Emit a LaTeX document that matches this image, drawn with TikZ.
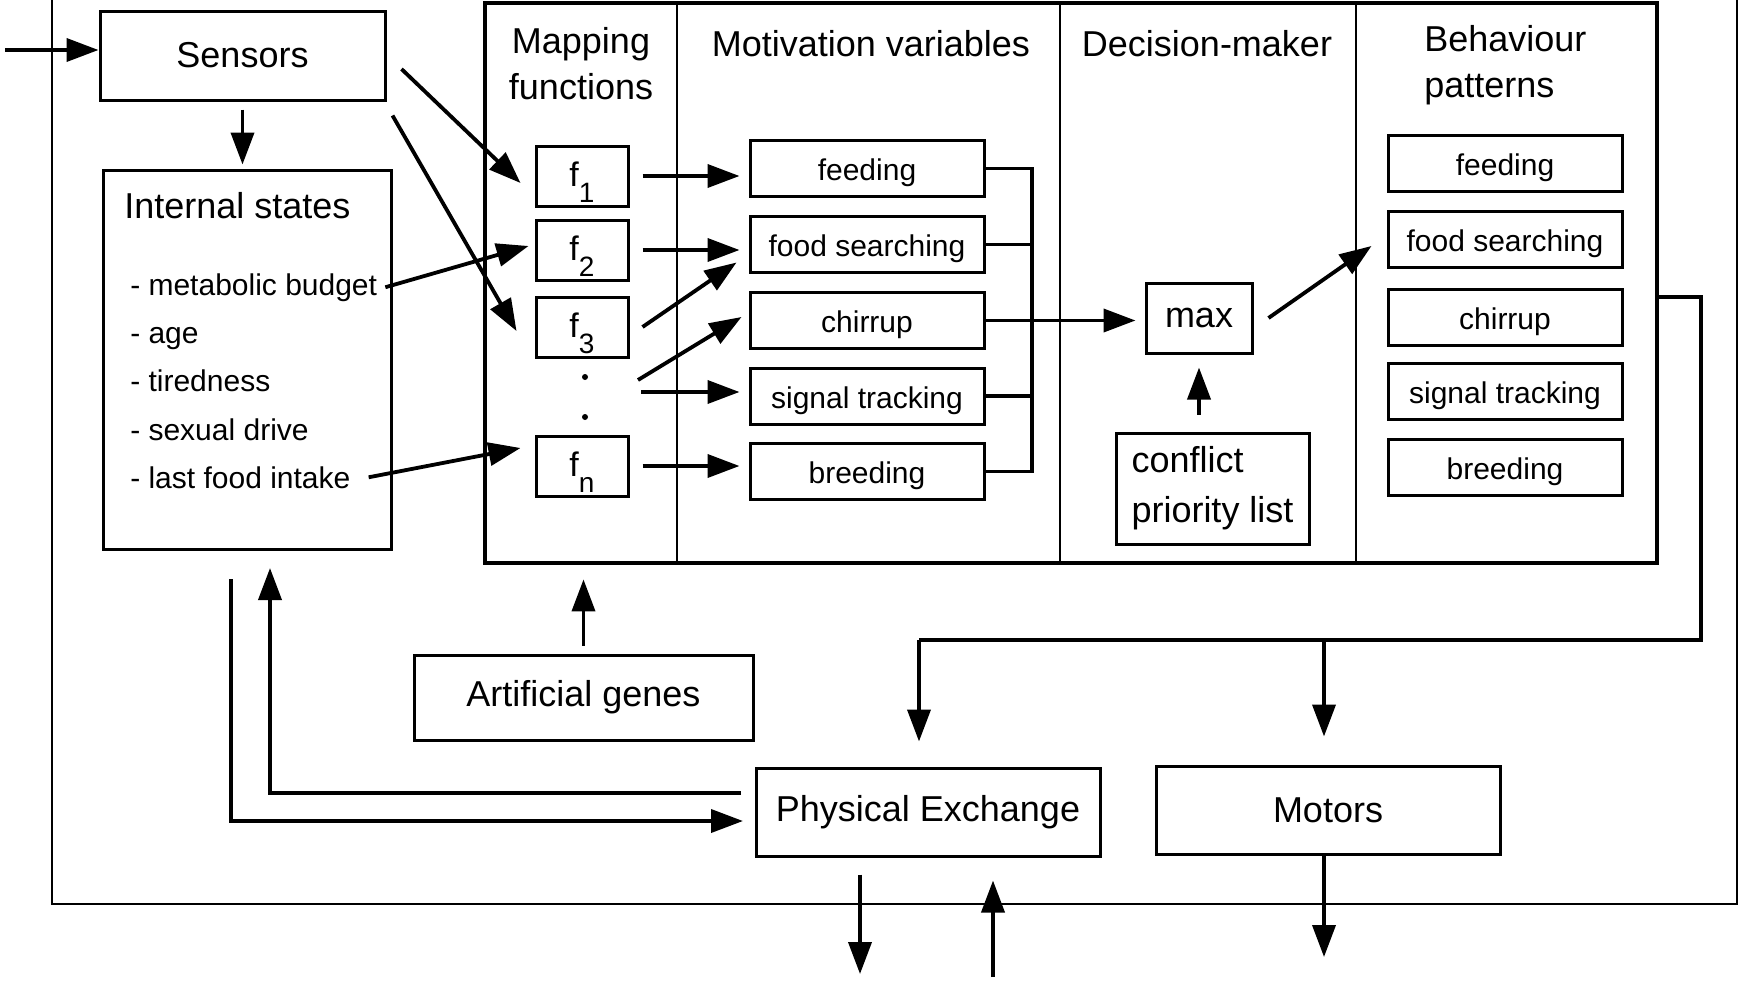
\documentclass[tikz,border=0pt]{standalone}
\usepackage{fontspec}
\setmainfont{Liberation Sans}
\usetikzlibrary{arrows.meta}
\newcommand{\fsub}[1]{f\raisebox{-8pt}{\fontsize{14}{14}\selectfont #1}}
\begin{document}
\begin{tikzpicture}[x=0.5pt,y=-0.5pt,
  line width=1.6pt,
  big/.style={font=\fontsize{18}{23}\selectfont},
  small/.style={font=\fontsize{15}{18}\selectfont},
  box/.style={draw, line width=1.5pt, inner sep=0pt},
  fbox/.style={box, font=\fontsize{17}{20}\selectfont, text height=15pt, text depth=5pt, minimum width=46pt, minimum height=30pt},
  mbox/.style={box, small, text height=12pt, text depth=0pt, minimum width=117pt, minimum height=28pt},
  wide/.style={box, big, minimum width=172pt, minimum height=44pt},
  arr/.style={-{Triangle[length=16pt,width=11.5pt]}, line width=1.9pt},
]
\useasboundingbox (0,0) rectangle (1740,980);

% outer frame of the agent
\draw[line width=1.3pt] (52,0) -- (52,904) -- (1737,904) -- (1737,0);

% sensors and internal states
\node[box, big, minimum width=142.5pt, minimum height=44.5pt] (sen) at (242.5,55.5) {Sensors};
\node[box, minimum width=144pt, minimum height=189.5pt] (ist) at (247,359.5) {};
\node[big, anchor=west] (istT) at (116,206) {Internal states};
\node[small, anchor=base west] (b1) at (122,295) {- metabolic budget};
\node[small, anchor=base west] (b2) at (122,343) {- age};
\node[small, anchor=base west] (b3) at (122,391) {- tiredness};
\node[small, anchor=base west] (b4) at (122,440) {- sexual drive};
\node[small, anchor=base west] (b5) at (122,488) {- last food intake};

% control module with its four columns
\node[draw, line width=2.4pt, minimum width=586pt, minimum height=280pt, inner sep=0pt] (core) at (1071,283) {};
\draw[line width=1.2pt] (677,3) -- (677,563);
\draw[line width=1.2pt] (1060,3) -- (1060,563);
\draw[line width=1.2pt] (1356,3) -- (1356,563);
\node[big, align=center] (hmap) at (581,64) {Mapping\\functions};
\node[big] (hmot) at (871,44) {Motivation variables};
\node[big] (hdec) at (1207,44) {Decision-maker};
\node[big, align=left, anchor=west] (hbeh) at (1416,65) {Behaviour\\patterns};

% mapping functions, with a vertical ellipsis before the last one
\node[fbox] (f1) at (582,176) {\fsub{1}};
\node[fbox] (f2) at (582,250) {\fsub{2}};
\node[fbox] (f3) at (582,327) {\fsub{3}};
\node[fbox] (fn) at (582,466) {\fsub{n}};
\fill (585,377) circle (1.5pt);
\fill (585,417) circle (1.5pt);

% motivation variables
\node[mbox] (mfeed) at (867,168.5) {feeding};
\node[mbox] (msearch) at (867,244.5) {food searching};
\node[mbox] (mchirp) at (867,320.5) {chirrup};
\node[mbox] (msignal) at (867,396) {signal tracking};
\node[mbox] (mbreed) at (867,471.5) {breeding};

% decision-maker
\node[box, big, minimum width=53pt, minimum height=35pt] (max) at (1199,318) {max};
\node[box, big, align=left, minimum width=96.5pt, minimum height=55.5pt, font=\fontsize{18}{25}\selectfont] (conf) at (1212.5,488.5) {conflict\\priority list};

% behaviour patterns
\node[mbox] (bfeed) at (1505,163) {feeding};
\node[mbox] (bsearch) at (1505,239.5) {food searching};
\node[mbox] (bchirp) at (1505,317) {chirrup};
\node[mbox] (bsignal) at (1505,391.5) {signal tracking};
\node[mbox] (bbreed) at (1505,467) {breeding};

% lower blocks
\node[box, big, minimum width=169.5pt, minimum height=42.5pt] (gen) at (583.5,697.5) {Artificial genes};
\node[wide] (pe) at (928,812) {Physical Exchange};
\node[wide] (mot) at (1328,810) {Motors};

% free ends of connectors
\coordinate (in) at (5,50);
\coordinate (m4a) at (638,380);
\coordinate (m4b) at (641,392);
\coordinate (bus) at (1032,320.5);
\coordinate (tap) at (1657,297);
\coordinate (corner) at (1701,640);
\coordinate (j1) at (919,640);
\coordinate (j2) at (1324,640);
\coordinate (pa) at (741,793);
\coordinate (ia) at (270,568);
\coordinate (ib) at (231,579);
\coordinate (pb) at (743,821);
\coordinate (o1) at (860,974);
\coordinate (i1) at (993,977);
\coordinate (o2) at (1324,957);

% inputs
\draw[arr] (in) -- (in -| sen.west);
\draw[arr, shorten <=4pt, shorten >=2pt] (sen.south) -- (sen.south |- ist.north);
\draw[arr] ([shift={(7.5pt,-6.75pt)}]sen.east) -- ([shift={(-7pt,-3.5pt)}]f1.west);
\draw[arr] ([shift={(3pt,-7pt)}]sen.south east) -- ([shift={(-9pt,-2pt)}]f3.west);
\draw[arr] (b1.east) -- ([shift={(-3pt,2pt)}]f2.west);
\draw[arr] ([xshift=5pt]b5.east) -- ([shift={(-7pt,9pt)}]fn.west);

% mapping functions to motivation variables
\draw[arr, shorten <=6.5pt, shorten >=4.5pt] (f1) -- (f1 -| mfeed.west);
\draw[arr, shorten <=6.5pt, shorten >=4.5pt] (f2) -- (f2 -| msearch.west);
\draw[arr] ([xshift=6.5pt]f3.east) -- ([shift={(-6pt,-9pt)}]msearch.west);
\draw[arr] (m4a) -- ([shift={(-3.5pt,1.75pt)}]mchirp.west);
\draw[arr, shorten >=4.5pt] (m4b) -- (m4b -| msignal.west);
\draw[arr, shorten <=6.5pt, shorten >=4.5pt] (fn) -- (fn -| mbreed.west);

% motivation bus into the decision-maker
\draw[line width=1.8pt] (mfeed.east) -| (bus);
\draw[line width=1.8pt] (mbreed.east) -| (bus);
\draw[line width=1.8pt] (msearch.east) -- (msearch.east -| bus);
\draw[line width=1.8pt] (msignal.east) -- (msignal.east -| bus);
\draw[arr, shorten >=4.5pt] (mchirp.east) -- (mchirp.east -| max.west);
\draw[arr, shorten <=8.5pt, shorten >=6.5pt] (conf.north -| max.south) -- (max.south);
\draw[arr] ([xshift=7.5pt]max.east) -- ([shift={(-7.5pt,-3.25pt)}]bsearch.west);

% behaviour output to the effectors
\draw[line width=1.8pt] (tap) -| (corner) -- (j1);
\draw[arr, shorten >=12.5pt] (j1) -- (j1 |- pe.north);
\draw[arr, shorten >=14pt] (j2) -- (j2 |- mot.north);

% genes and feedback loops
\draw[arr, shorten <=4pt, shorten >=7pt] (gen.north) -- (gen.north |- core.south);
\draw[arr] (pa) -| (ia);
\draw[arr] (ib) |- (pb);

% exchanges with the environment
\draw[arr, shorten <=8.5pt] (o1 |- pe.south) -- (o1);
\draw[arr, shorten >=11.5pt] (i1) -- (i1 |- pe.south);
\draw[arr] (o2 |- mot.south) -- (o2);
\end{tikzpicture}
\end{document}
